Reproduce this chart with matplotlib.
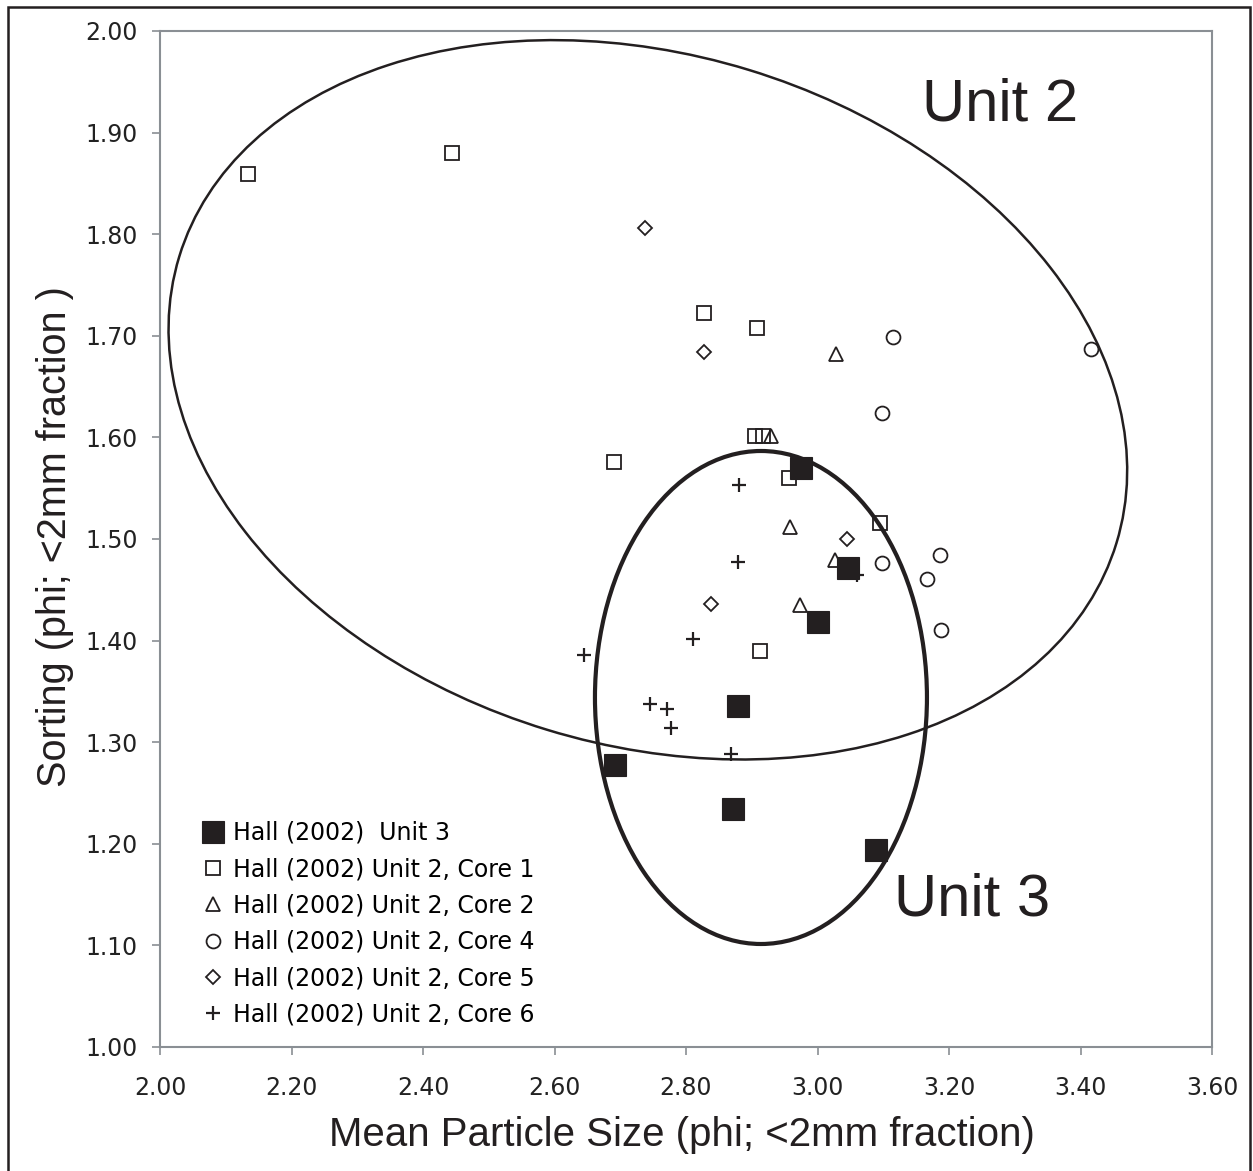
import matplotlib
matplotlib.use('Agg')
import matplotlib.pyplot as plt
from matplotlib.patches import Ellipse, Rectangle
from matplotlib.transforms import ScaledTranslation

# Hall (2002) data
unit3_x = [2.975, 3.046, 3.001, 2.879, 2.692, 2.871, 3.089]
unit3_y = [1.570, 1.471, 1.418, 1.336, 1.278, 1.234, 1.194]

core1_x = [2.134, 2.444, 2.827, 2.908, 2.690, 2.905, 2.917, 2.957, 3.095, 2.913]
core1_y = [1.859, 1.880, 1.722, 1.708, 1.576, 1.601, 1.601, 1.560, 1.516, 1.390]

core2_x = [2.930, 3.028, 2.958, 3.027, 2.973]
core2_y = [1.601, 1.682, 1.512, 1.479, 1.435]

core4_x = [3.115, 3.416, 3.098, 3.098, 3.186, 3.167, 3.188]
core4_y = [1.699, 1.687, 1.624, 1.476, 1.484, 1.461, 1.410]

core5_x = [2.738, 2.827, 3.045, 2.838]
core5_y = [1.806, 1.684, 1.500, 1.436]

core6_x = [2.881, 2.879, 2.811, 2.645, 2.745, 2.771, 2.777, 2.868, 3.060]
core6_y = [1.553, 1.477, 1.402, 1.386, 1.338, 1.333, 1.314, 1.288, 1.465]

x_ticks = [2.00, 2.20, 2.40, 2.60, 2.80, 3.00, 3.20, 3.40, 3.60]
y_ticks = [1.00, 1.10, 1.20, 1.30, 1.40, 1.50, 1.60, 1.70, 1.80, 1.90, 2.00]

# unit envelopes: centre (data), size in inches, angle
unit2_env = ((2.742, 1.637), 9.8, 6.9, -17)
unit3_env = ((2.914, 1.344), 3.32, 4.93, 0)

plt.rcParams['font.family'] = 'DejaVu Sans'
ink = '#231f20'
grey = '#8a8f94'

fig = plt.figure(figsize=(12.53, 11.71), dpi=100)
ax = fig.add_axes([160 / 1253, 124 / 1171, 1052 / 1253, 1016 / 1171])

ax.plot(unit3_x, unit3_y, 's', ms=15.5, mfc=ink, mec=ink, mew=0.8,
        ls='none', label='Hall (2002)  Unit 3', zorder=3)
ax.plot(core1_x, core1_y, 's', ms=10.5, mfc='none', mec=ink, mew=1.3,
        ls='none', label='Hall (2002) Unit 2, Core 1', zorder=3)
ax.plot(core2_x, core2_y, '^', ms=10, mfc='none', mec=ink, mew=1.3,
        ls='none', label='Hall (2002) Unit 2, Core 2', zorder=3)
ax.plot(core4_x, core4_y, 'o', ms=10, mfc='none', mec=ink, mew=1.3,
        ls='none', label='Hall (2002) Unit 2, Core 4', zorder=3)
ax.plot(core5_x, core5_y, 'D', ms=7, mfc='none', mec=ink, mew=1.3,
        ls='none', label='Hall (2002) Unit 2, Core 5', zorder=3)
ax.plot(core6_x, core6_y, '+', ms=10, mec=ink, mew=1.6,
        ls='none', label='Hall (2002) Unit 2, Core 6', zorder=3)

# envelopes drawn in screen units so they keep their shape
for (c, w, h, ang), lw in [(unit2_env, 1.8), (unit3_env, 3.0)]:
    tr = fig.dpi_scale_trans + ScaledTranslation(c[0], c[1], ax.transData)
    ax.add_patch(Ellipse((0, 0), w, h, angle=ang, fill=False, ec=ink,
                         lw=lw, transform=tr, zorder=4))

ax.text(1000 / 1253, (1171 - 105) / 1171, 'Unit 2', transform=fig.transFigure,
        ha='center', va='center', fontsize=43, family='Liberation Sans', color=ink)
ax.text(972 / 1253, (1171 - 900) / 1171, 'Unit 3', transform=fig.transFigure,
        ha='center', va='center', fontsize=43, family='Liberation Sans', color=ink)

ax.set_xlim(2.0, 3.6)
ax.set_ylim(1.0, 2.0)
ax.set_xticks(x_ticks)
ax.set_yticks(y_ticks)
ax.set_xticklabels(['%.2f' % v for v in x_ticks])
ax.set_yticklabels(['%.2f' % v for v in y_ticks])
ax.tick_params(axis='both', direction='out', length=6, width=1.2, color=grey,
               labelsize=17, labelcolor='#222222')
ax.tick_params(axis='x', pad=15)
ax.tick_params(axis='y', pad=10)
for s in ax.spines.values():
    s.set_color(grey)
    s.set_linewidth(1.5)

ax.set_xlabel('Mean Particle Size (phi; <2mm fraction)', fontsize=29,
              family='Liberation Sans', color=ink, va='center')
ax.xaxis.set_label_coords(0.496, -0.0866)
ax.set_ylabel('Sorting (phi; <2mm fraction )', fontsize=28.5,
              family='Liberation Sans', color=ink, va='center')
ax.yaxis.set_label_coords(-0.0998, 0.502)

ax.legend(loc='upper left', bbox_to_anchor=(0.040, 0.2225), frameon=False,
          fontsize=17, handlelength=0.95, handletextpad=0.36, labelspacing=0.52,
          borderpad=0, borderaxespad=0, numpoints=1)

# outer frame around the whole figure
fig.patches.append(Rectangle((8 / 1253, -0.01), 1242 / 1253, (1171 - 7) / 1171 + 0.01,
                             transform=fig.transFigure, fill=False, ec=ink, lw=1.8))

fig.savefig('out.png', dpi=100)
